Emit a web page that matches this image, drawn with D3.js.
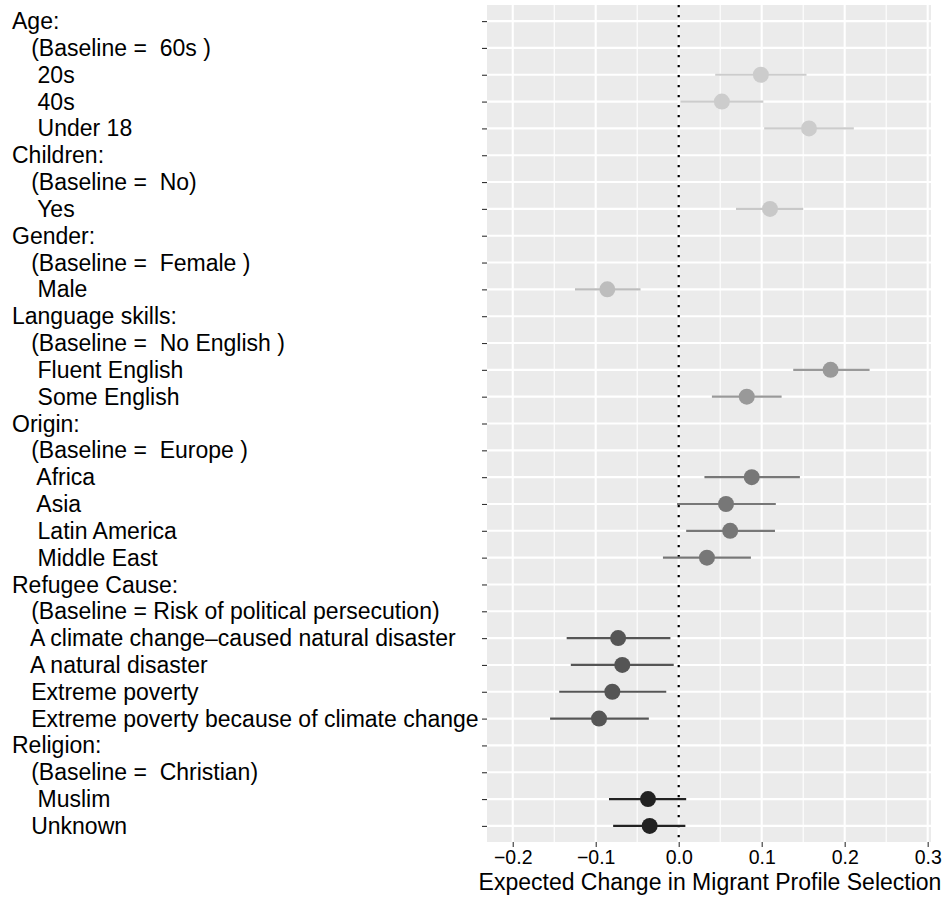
<!DOCTYPE html>
<html>
<head>
<meta charset="utf-8">
<script src="https://cdn.jsdelivr.net/npm/d3@7"></script>
<style>
  html, body { margin: 0; padding: 0; background: #ffffff; }
  svg { display: block; }
  text { font-family: "Liberation Sans", Arial, Helvetica, sans-serif; }
</style>
</head>
<body>
<svg id="chart" width="947" height="898"></svg>
<script>
// ---- data ----
const categories = [
  "Age:",
  "   (Baseline =  60s )",
  "    20s",
  "    40s",
  "    Under 18",
  "Children:",
  "   (Baseline =  No)",
  "    Yes",
  "Gender:",
  "   (Baseline =  Female )",
  "    Male",
  "Language skills:",
  "   (Baseline =  No English )",
  "    Fluent English",
  "    Some English",
  "Origin:",
  "   (Baseline =  Europe )",
  "    Africa",
  "    Asia",
  "    Latin America",
  "    Middle East",
  "Refugee Cause:",
  "   (Baseline = Risk of political persecution)",
  "   A climate change\u2013caused natural disaster",
  "   A natural disaster",
  "   Extreme poverty",
  "   Extreme poverty because of climate change",
  "Religion:",
  "   (Baseline =  Christian)",
  "    Muslim",
  "   Unknown"
];
const estimates = [
  null, null, 0.099, 0.052, 0.157,
  null, null, 0.110,
  null, null, -0.086,
  null, null, 0.183, 0.082,
  null, null, 0.088, 0.057, 0.062, 0.034,
  null, null, -0.073, -0.068, -0.080, -0.096,
  null, null, -0.037, -0.035
];
const lowerCI = [
  null, null, 0.044, 0.002, 0.103,
  null, null, 0.069,
  null, null, -0.125,
  null, null, 0.138, 0.040,
  null, null, 0.031, -0.002, 0.009, -0.019,
  null, null, -0.135, -0.130, -0.144, -0.155,
  null, null, -0.084, -0.079
];
const upperCI = [
  null, null, 0.154, 0.102, 0.211,
  null, null, 0.150,
  null, null, -0.046,
  null, null, 0.230, 0.124,
  null, null, 0.146, 0.117, 0.116, 0.087,
  null, null, -0.010, -0.006, -0.015, -0.036,
  null, null, 0.009, 0.008
];
const groupOf = [
  0,0,0,0,0,
  1,1,1,
  2,2,2,
  3,3,3,3,
  4,4,4,4,4,4,
  5,5,5,5,5,5,
  6,6,6,6
];
const groupColors = ["#cccccc", "#c8c8c8", "#bdbdbd", "#999999", "#777777", "#555555", "#222222"];
const xTicks = [-0.2, -0.1, 0.0, 0.1, 0.2, 0.3];
const xMinor = [-0.15, -0.05, 0.05, 0.15, 0.25];
const xTitle = "Expected Change in Migrant Profile Selection";

// ---- layout ----
const svg = d3.select("#chart");
const panel = { left: 487, right: 931, top: 5, bottom: 842 };

const x = d3.scaleLinear().domain([-0.231, 0.304]).range([panel.left, panel.right]);
const rows = categories.map((c, i) => i);
const y = d3.scalePoint().domain(rows).range([panel.top, panel.bottom]).padding(0.6);

// panel background
svg.append("rect")
  .attr("x", panel.left).attr("y", panel.top)
  .attr("width", panel.right - panel.left)
  .attr("height", panel.bottom - panel.top)
  .attr("fill", "#ebebeb");

// minor vertical grid
svg.append("g").selectAll("line").data(xMinor).join("line")
  .attr("x1", d => x(d)).attr("x2", d => x(d))
  .attr("y1", panel.top).attr("y2", panel.bottom)
  .attr("stroke", "#ffffff").attr("stroke-width", 1.1);

// major vertical grid
svg.append("g").selectAll("line").data(xTicks).join("line")
  .attr("x1", d => x(d)).attr("x2", d => x(d))
  .attr("y1", panel.top).attr("y2", panel.bottom)
  .attr("stroke", "#ffffff").attr("stroke-width", 2.1);

// horizontal grid
svg.append("g").selectAll("line").data(rows).join("line")
  .attr("x1", panel.left).attr("x2", panel.right)
  .attr("y1", d => y(d)).attr("y2", d => y(d))
  .attr("stroke", "#ffffff").attr("stroke-width", 2.1);

// dotted zero line
svg.append("line")
  .attr("x1", x(0)).attr("x2", x(0))
  .attr("y1", panel.top).attr("y2", panel.bottom)
  .attr("stroke", "#000000").attr("stroke-width", 2.2)
  .attr("stroke-dasharray", "2.2,7.8");

// error bars and points
const pts = rows.filter(i => estimates[i] !== null);
svg.append("g").selectAll("line").data(pts).join("line")
  .attr("x1", i => x(lowerCI[i])).attr("x2", i => x(upperCI[i]))
  .attr("y1", i => y(i)).attr("y2", i => y(i))
  .attr("stroke", i => groupColors[groupOf[i]])
  .attr("stroke-width", 2.2);

svg.append("g").selectAll("circle").data(pts).join("circle")
  .attr("cx", i => x(estimates[i])).attr("cy", i => y(i))
  .attr("r", 8)
  .attr("fill", i => groupColors[groupOf[i]]);

// y axis ticks
const yAxis = d3.axisLeft(y).tickSize(5).tickFormat("");
const gy = svg.append("g").attr("transform", `translate(${panel.left},0)`).call(yAxis);
gy.select(".domain").remove();
gy.selectAll(".tick line").attr("stroke", "#333333").attr("stroke-width", 1.1);

// y labels (left aligned)
svg.append("g").selectAll("text").data(rows).join("text")
  .attr("x", 12)
  .attr("y", i => y(i))
  .attr("dy", "0.35em")
  .attr("font-size", 23)
  .attr("fill", "#000000")
  .style("white-space", "pre")
  .attr("xml:space", "preserve")
  .text(i => categories[i]);

// x axis
const xAxis = d3.axisBottom(x).tickValues(xTicks).tickSize(5).tickPadding(3)
  .tickFormat(d => d3.format(".1f")(d).replace("-", "\u2212"));
const gx = svg.append("g").attr("transform", `translate(0,${panel.bottom})`).call(xAxis);
gx.select(".domain").remove();
gx.selectAll(".tick line").attr("stroke", "#333333").attr("stroke-width", 1.1);
gx.selectAll(".tick text")
  .attr("font-size", 19.5)
  .attr("fill", "#000000")
  .attr("font-family", "'Liberation Sans', Arial, Helvetica, sans-serif");

// x title
svg.append("text")
  .attr("x", (panel.left + panel.right) / 2 + 1)
  .attr("y", 890)
  .attr("text-anchor", "middle")
  .attr("font-size", 23)
  .attr("fill", "#000000")
  .text(xTitle);
</script>
</body>
</html>
